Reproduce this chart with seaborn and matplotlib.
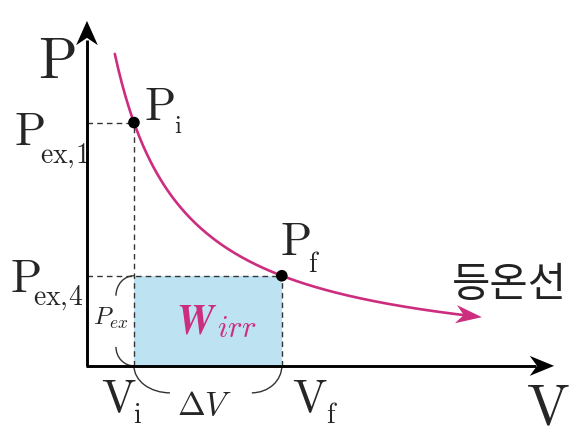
import numpy as np
import matplotlib
matplotlib.use('Agg')
import matplotlib.pyplot as plt
from matplotlib.patches import Rectangle, Arc, Polygon
import seaborn as sb

# Dati del diagramma (isoterma P = k / V)
k_iso = 2.8
V_i = 1.0
V_f = 2.7
P_i = k_iso / V_i
P_f = k_iso / V_f
V_start = 0.78
V_end = 5.0
V_axis = 0.46   # posizione dell'asse P

MAGENTA = '#cc2d7f'
BLUE = '#bde2f1'
GRAY = '#333333'

sb.set_theme(style='white')
plt.rcParams['mathtext.fontset'] = 'cm'
plt.rcParams['font.family'] = ['Noto Sans CJK KR', 'DejaVu Sans']

fig = plt.figure(figsize=(5.88, 4.38), dpi=100)
ax = fig.add_axes([0, 0, 1, 1])
ax.set_xlim(-0.54, 6.22)
ax.set_ylim(-0.83, 4.21)
ax.axis('off')


def stealth(ax, tip, ang, length, half_w, color, notch=0.3):
    # punta di freccia concava
    d = np.array([np.cos(ang), np.sin(ang)])
    n = np.array([-d[1], d[0]])
    tip = np.array(tip)
    base = tip - d * length
    pts = [tip, base + n * half_w, tip - d * length * (1 - notch), base - n * half_w]
    ax.add_patch(Polygon(pts, closed=True, color=color, lw=0, zorder=6))


def lab(x, y, s, size, **kw):
    # testo posizionato in pixel della figura
    ax.text(x / 588, 1 - y / 438, s, transform=ax.transAxes, fontsize=size,
            ha=kw.pop('ha', 'left'), va=kw.pop('va', 'baseline'), **kw)


# rettangolo del lavoro irreversibile
ax.add_patch(Rectangle((V_i, 0), V_f - V_i, P_f, color=BLUE, lw=0, zorder=1))

# linee tratteggiate
dash = dict(color=GRAY, lw=1.0, ls=(0, (4, 3)), zorder=2)
ax.plot([V_axis, V_i], [P_i, P_i], **dash)
ax.plot([V_i, V_i], [0, P_i], **dash)
ax.plot([V_axis, V_f], [P_f, P_f], **dash)
ax.plot([V_f, V_f], [0, P_f], **dash)

# assi con frecce
ax.plot([V_axis, V_axis], [0, 3.75], color='black', lw=2.1, zorder=5, solid_capstyle='butt')
ax.plot([V_axis - 0.012, 5.62], [0, 0], color='black', lw=2.1, zorder=5, solid_capstyle='butt')
stealth(ax, (V_axis, 3.97), np.pi / 2, 0.28, 0.125, 'black')
stealth(ax, (5.83, 0), 0.0, 0.28, 0.115, 'black')

# isoterma
V_curve = np.linspace(V_start, V_end - 0.2, 200)
P_curve = k_iso / V_curve
sb.lineplot(x=V_curve, y=P_curve, ax=ax, color=MAGENTA, lw=1.9, zorder=4, sort=False)
ang = np.arctan2(k_iso / V_end - k_iso / (V_end - 0.25), 0.25)
stealth(ax, (V_end, k_iso / V_end), ang, 0.30, 0.105, MAGENTA)

# punti iniziale e finale
sb.scatterplot(x=[V_i, V_f], y=[P_i, P_f], ax=ax, color='black', s=70,
               edgecolor='none', zorder=7)

# parentesi (archi)
arc = dict(color=GRAY, lw=1.0, zorder=3)
u = 1 / 87
ax.add_patch(Arc((V_i + 36 * u, 0), 72 * u, 54 * u, theta1=180, theta2=270, **arc))
ax.add_patch(Arc((V_f - 30 * u, 0), 60 * u, 54 * u, theta1=270, theta2=360, **arc))
ax.add_patch(Arc((V_i, P_f - 20 * u), 36 * u, 40 * u, theta1=90, theta2=180, **arc))
ax.add_patch(Arc((V_i, 19 * u), 36 * u, 38 * u, theta1=180, theta2=270, **arc))

# etichette
rm = lambda s: r'$\mathrm{' + s + '}$'
lab(38, 78, rm('P'), 41)
lab(526, 425, rm('V'), 41)
lab(144, 120, rm('P'), 33)
lab(174, 133, rm('i'), 18)
lab(14, 145, rm('P'), 33)
lab(40, 163, rm('ex,\\!1'), 20)
lab(10, 292, rm('P'), 33)
lab(33, 305, rm('ex,\\!4'), 20)
lab(280, 255, rm('P'), 33)
lab(308, 272, rm('f'), 20)
lab(101, 412, rm('V'), 33)
lab(133, 423, rm('i'), 20)
lab(292, 412, rm('V'), 33)
lab(326, 423, rm('f'), 20)
lab(177, 415, r'$\Delta V$', 24)
lab(111, 318, r'$P_{ex}$', 18, ha='center', va='center')
lab(176, 333, r'$\mathbfit{W}$', 30, color=MAGENTA)
lab(217, 337, r'$\mathit{irr}$', 22, color=MAGENTA)
lab(509, 285, '등온선', 30, ha='center', va='center', color='#222222',
    fontweight='light')

plt.savefig('out.png', dpi=100)
